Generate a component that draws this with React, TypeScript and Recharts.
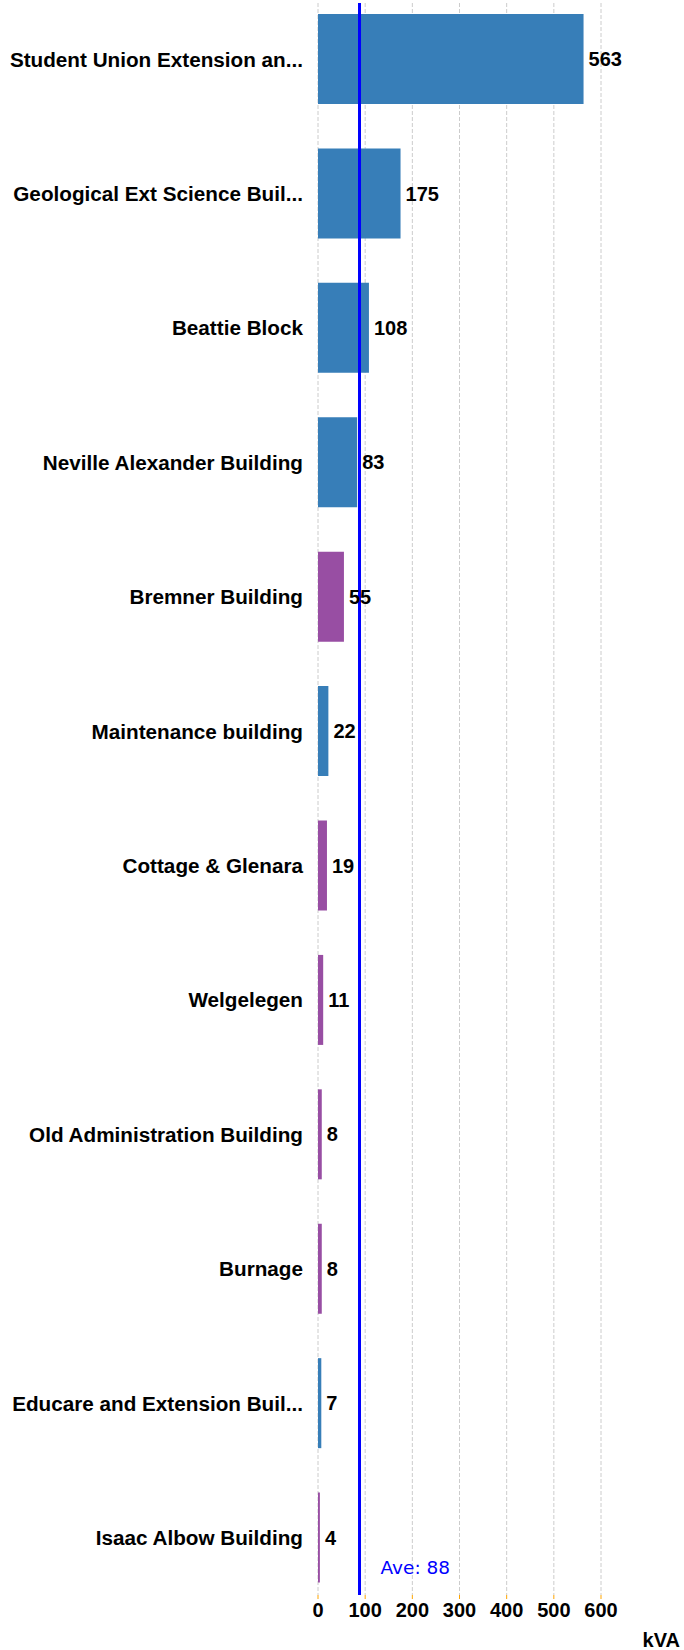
import { BarChart, Bar, XAxis, YAxis, CartesianGrid, ReferenceLine, LabelList, Cell } from "recharts";

const buildings = [
  "Student Union Extension an...",
  "Geological Ext Science Buil...",
  "Beattie Block",
  "Neville Alexander Building",
  "Bremner Building",
  "Maintenance building",
  "Cottage & Glenara",
  "Welgelegen",
  "Old Administration Building",
  "Burnage",
  "Educare and Extension Buil...",
  "Isaac Albow Building",
];
const kva = [563, 175, 108, 83, 55, 22, 19, 11, 8, 8, 7, 4];
const groups = ["a", "a", "a", "a", "b", "a", "b", "b", "b", "b", "a", "b"];
const xTicks = [0, 100, 200, 300, 400, 500, 600];
const average = 88;

const groupColor: Record<string, string> = { a: "#377EB8", b: "#984EA3" };
const font = "'Liberation Sans', Arial, sans-serif";

const data = buildings.map((name, i) => ({ name, kva: kva[i], group: groups[i] }));

function AveLabel({ viewBox }: any) {
  if (!viewBox) return null;
  return (
    <text x={viewBox.x + 21} y={viewBox.y + viewBox.height - 21}
      fill="#0000FF" fontSize={18.5} fontFamily="'DejaVu Sans', Tahoma, sans-serif">
      {`Ave: ${average}`}
    </text>
  );
}

function UnitLabel({ viewBox }: any) {
  if (!viewBox) return null;
  return (
    <text x={viewBox.x + viewBox.width + 79} y={viewBox.y + viewBox.height - 3}
      textAnchor="end" fill="#000" fontSize={20} fontWeight="bold" fontFamily={font}>
      kVA
    </text>
  );
}

export default function App() {
  return (
    <div style={{ position: "absolute", left: 0, top: 0, width: 684, height: 1650, background: "#fff" }}>
      <BarChart width={684} height={1650} data={data} layout="vertical"
        margin={{ top: 3, right: 83, bottom: 0, left: 0 }}>
        <CartesianGrid horizontal={false} stroke="#cccccc" strokeDasharray="4 2" />
        <XAxis type="number" domain={[0, 600]} ticks={xTicks} axisLine={false}
          tickSize={4} tickMargin={4} height={55}
          tickLine={{ stroke: "#FFA500" }}
          tick={{ fill: "#000", fontSize: 20, fontWeight: "bold", fontFamily: font }}
          label={<UnitLabel />} />
        <YAxis type="category" dataKey="name" width={318} axisLine={false} tickLine={false}
          tickSize={6} tickMargin={9} interval={0}
          padding={{ top: -11, bottom: -10 }}
          tick={{ fill: "#000", fontSize: 20.7, fontWeight: "bold", fontFamily: font }} />
        <Bar dataKey="kva" barSize={90} isAnimationActive={false}>
          {data.map((d) => <Cell key={d.name} fill={groupColor[d.group]} />)}
          <LabelList dataKey="kva" position="right" offset={5} fill="#000"
            fontSize={20} fontWeight="bold" fontFamily={font} />
        </Bar>
        <ReferenceLine x={average} stroke="#0000FF" strokeWidth={3} label={<AveLabel />} />
      </BarChart>
    </div>
  );
}
